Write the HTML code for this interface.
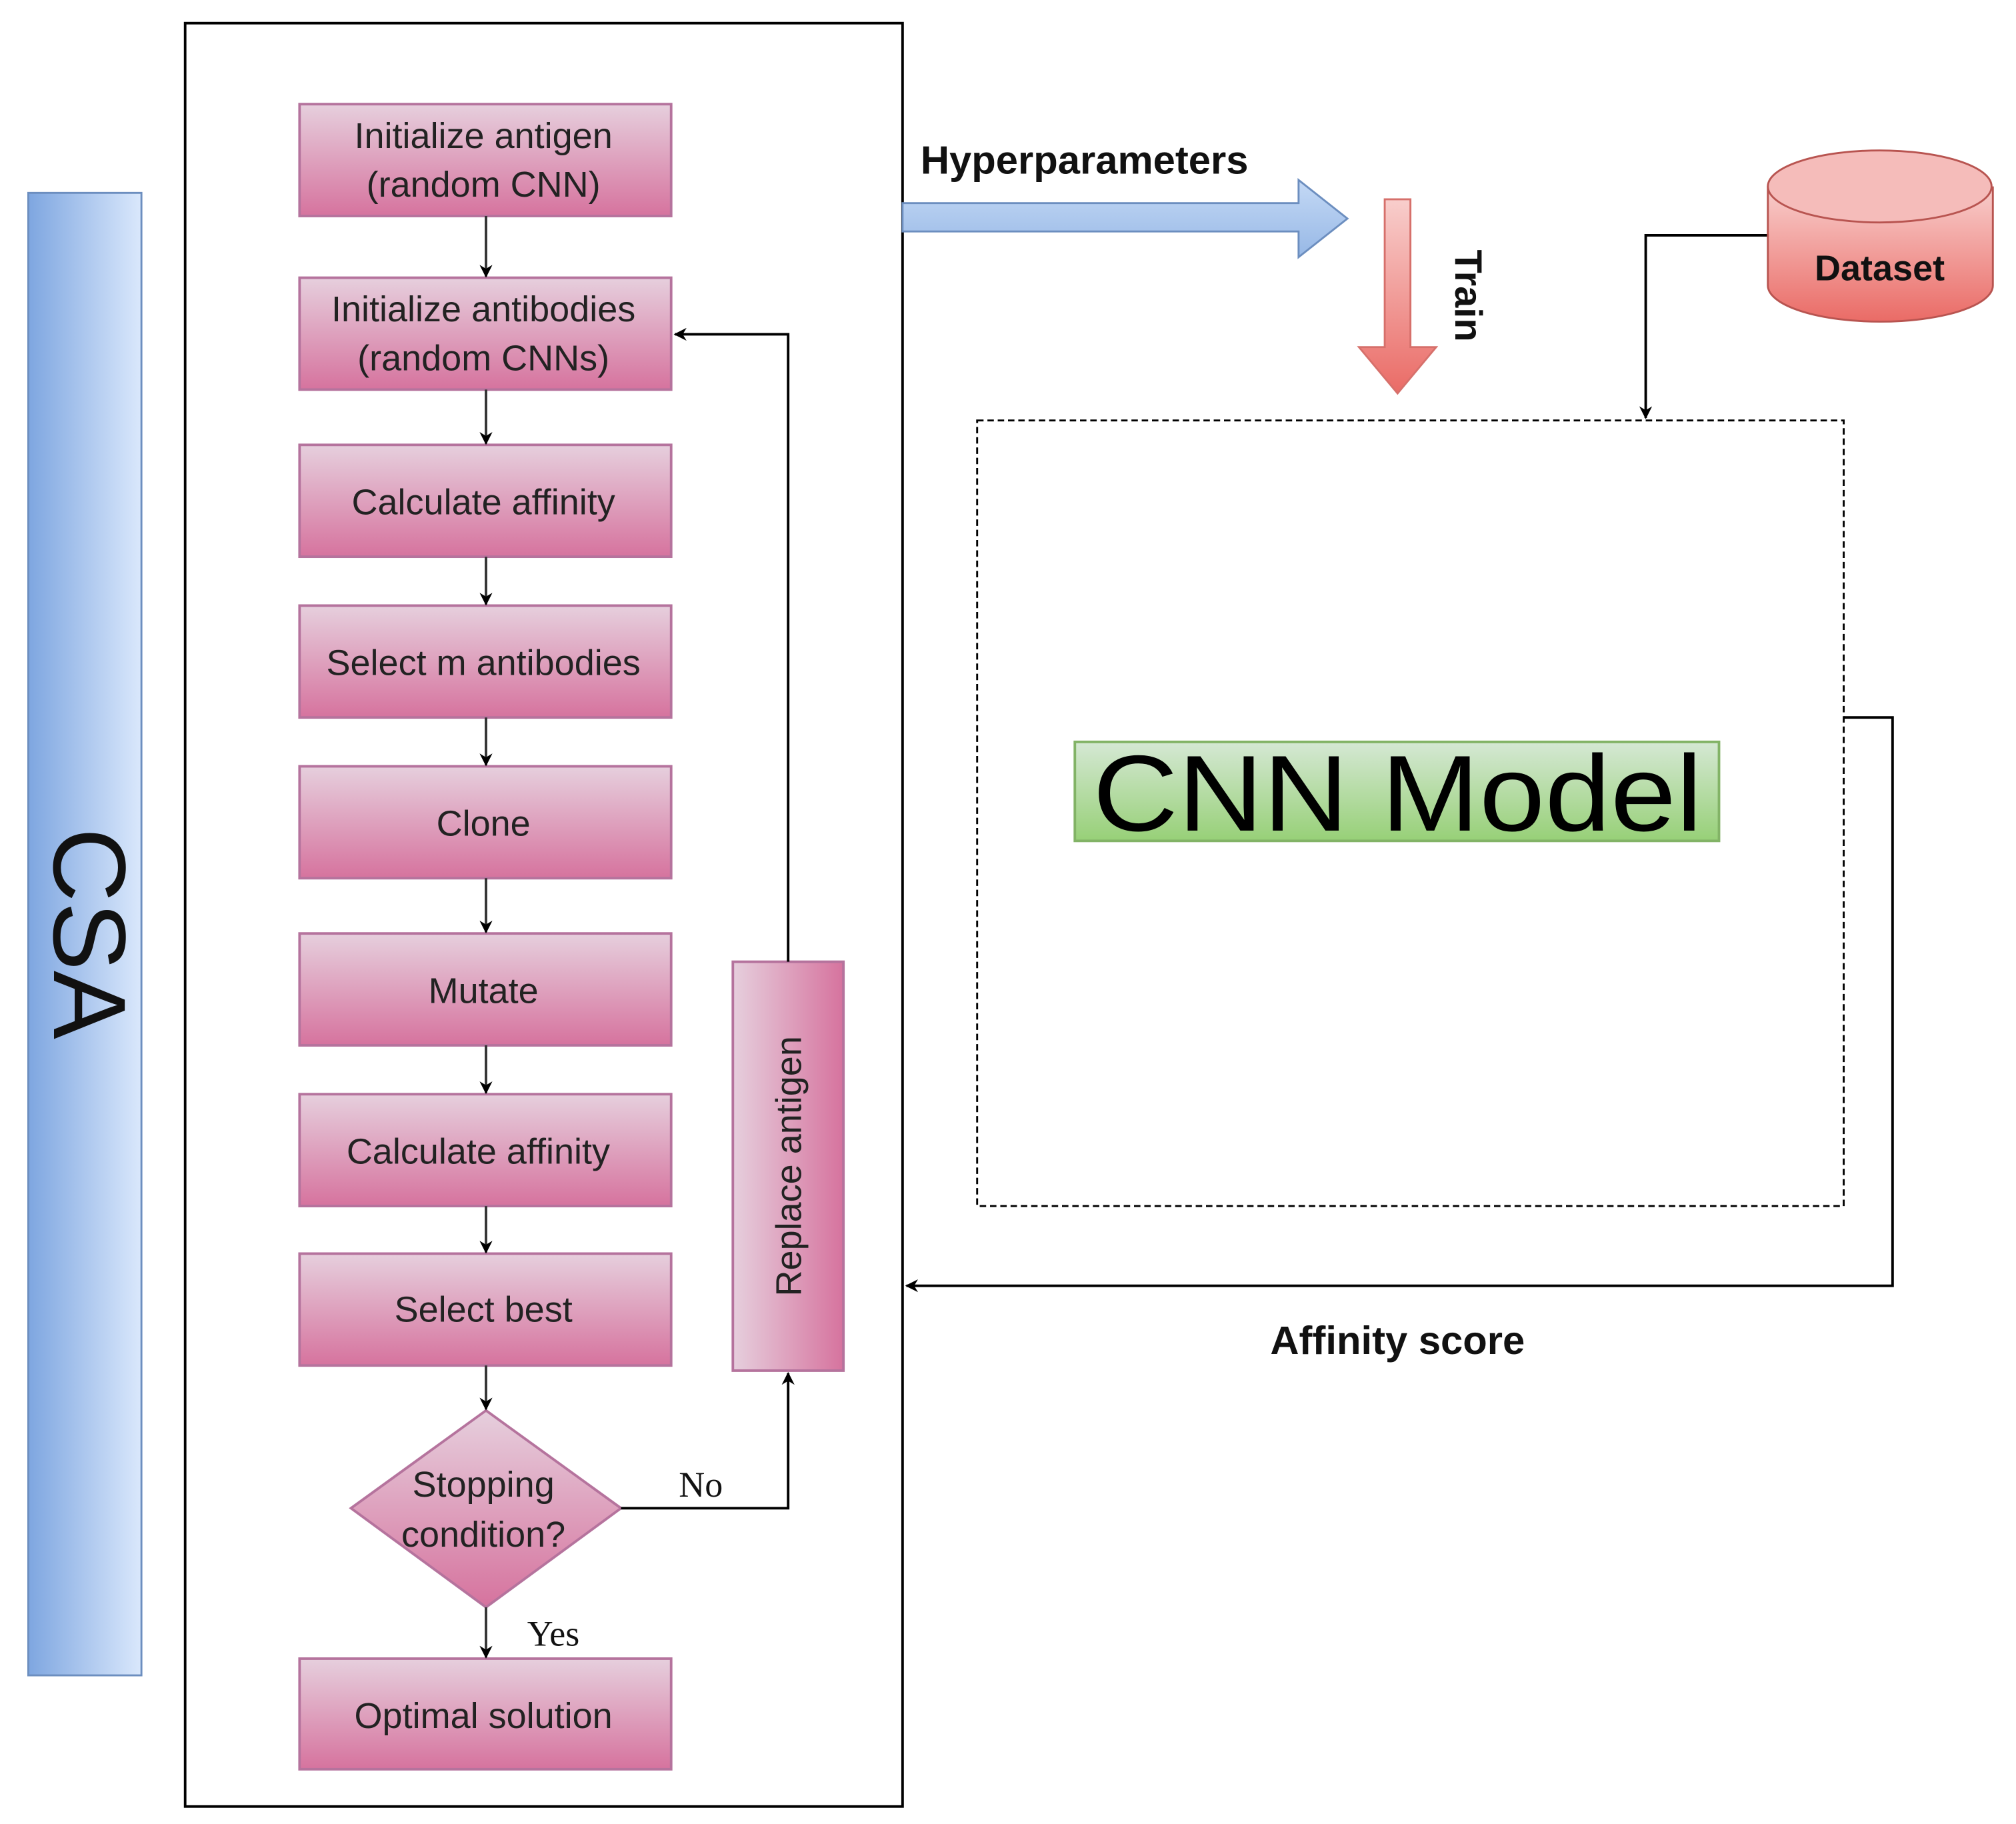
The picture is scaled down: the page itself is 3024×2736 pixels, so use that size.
<!DOCTYPE html>
<html><head><meta charset="utf-8"><style>html,body{margin:0;padding:0;background:#fff}svg{display:block}</style></head><body>
<svg width="3024" height="2736" viewBox="0 0 1568 1418.6" preserveAspectRatio="none" xmlns="http://www.w3.org/2000/svg" font-family="Liberation Sans, sans-serif">
<defs>
<linearGradient id="pk" x1="0" y1="0" x2="0" y2="1"><stop offset="0" stop-color="#e6cfdd"/><stop offset="1" stop-color="#d6739e"/></linearGradient>
<linearGradient id="pkh" x1="0" y1="0" x2="1" y2="0"><stop offset="0" stop-color="#e6cfdd"/><stop offset="1" stop-color="#d6739e"/></linearGradient>
<linearGradient id="bl" x1="0" y1="0" x2="1" y2="0"><stop offset="0" stop-color="#7ea6e0"/><stop offset="1" stop-color="#dae8fc"/></linearGradient>
<linearGradient id="blv" x1="0" y1="0" x2="0" y2="1"><stop offset="0" stop-color="#c4d9f5"/><stop offset="1" stop-color="#97b8e6"/></linearGradient>
<linearGradient id="rd" x1="0" y1="0" x2="0" y2="1"><stop offset="0" stop-color="#f8cecc"/><stop offset="1" stop-color="#ea6b66"/></linearGradient>
<linearGradient id="gr" x1="0" y1="0" x2="0" y2="1"><stop offset="0" stop-color="#d5e8d4"/><stop offset="1" stop-color="#97d077"/></linearGradient>
<marker id="ar" markerWidth="10" markerHeight="10" refX="9" refY="5" orient="auto" markerUnits="userSpaceOnUse"><path d="M0,0 L10,5 L0,10 L3,5 z" fill="#000"/></marker>
</defs>
<rect x="22" y="150" width="88" height="1153" fill="url(#bl)" stroke="#6c8ebf" stroke-width="1.5"/>
<text x="0" y="0" transform="translate(42,726) rotate(90)" font-size="80" text-anchor="middle" fill="#111">CSA</text>
<rect x="144" y="18" width="558" height="1387" fill="none" stroke="#000" stroke-width="2"/>
<g stroke="#b5739d" stroke-width="2" fill="url(#pk)">
<rect x="233" y="81" width="289" height="87"/>
<rect x="233" y="216" width="289" height="87"/>
<rect x="233" y="346" width="289" height="87"/>
<rect x="233" y="471" width="289" height="87"/>
<rect x="233" y="596" width="289" height="87"/>
<rect x="233" y="726" width="289" height="87"/>
<rect x="233" y="851" width="289" height="87"/>
<rect x="233" y="975" width="289" height="87"/>
<rect x="233" y="1290" width="289" height="86"/>
<path d="M378,1097 L483,1173 L378,1250 L273,1173 z"/>
</g>
<rect x="570" y="748" width="86" height="318" fill="url(#pkh)" stroke="#b5739d" stroke-width="2"/>
<g font-size="28" fill="#222" text-anchor="middle">
<text x="376" y="115">Initialize antigen</text><text x="376" y="153">(random CNN)</text>
<text x="376" y="250">Initialize antibodies</text><text x="376" y="288">(random CNNs)</text>
<text x="376" y="400">Calculate affinity</text>
<text x="376" y="525">Select m antibodies</text>
<text x="376" y="650">Clone</text>
<text x="376" y="780">Mutate</text>
<text x="372" y="905">Calculate affinity</text>
<text x="376" y="1028">Select best</text>
<text x="376" y="1164">Stopping</text><text x="376" y="1203">condition?</text>
<text x="376" y="1344">Optimal solution</text>
<text x="0" y="0" transform="translate(623,907) rotate(-90)">Replace antigen</text>
</g>
<g stroke="#333" stroke-width="2" fill="none" marker-end="url(#ar)">
<line x1="378" y1="168" x2="378" y2="215"/>
<line x1="378" y1="303" x2="378" y2="345"/>
<line x1="378" y1="433" x2="378" y2="470"/>
<line x1="378" y1="558" x2="378" y2="595"/>
<line x1="378" y1="683" x2="378" y2="725"/>
<line x1="378" y1="813" x2="378" y2="850"/>
<line x1="378" y1="938" x2="378" y2="974"/>
<line x1="378" y1="1062" x2="378" y2="1096"/>
<line x1="378" y1="1250" x2="378" y2="1289"/>
</g>
<g stroke="#000" stroke-width="2" fill="none" marker-end="url(#ar)">
<polyline points="613,748 613,260 525,260"/>
<polyline points="483,1173 613,1173 613,1068"/>
<polyline points="1375,183 1280,183 1280,325"/>
<polyline points="1434,558 1472,558 1472,1000 705,1000"/>
</g>
<g font-family="Liberation Serif, serif" font-size="28" fill="#111">
<text x="528" y="1164">No</text><text x="410" y="1280">Yes</text>
</g>
<text x="716" y="135" font-size="31" font-weight="bold" fill="#111">Hyperparameters</text>
<path d="M702,158 L1010,158 L1010,140 L1048,170 L1010,200 L1010,180 L702,180 z" fill="url(#blv)" stroke="#6c8ebf" stroke-width="1.5"/>
<path d="M1077,155 L1097,155 L1097,270 L1117,270 L1087,306 L1057,270 L1077,270 z" fill="url(#rd)" stroke="#d6706b" stroke-width="1.5"/>
<text x="0" y="0" transform="translate(1132,230) rotate(90)" font-size="30" font-weight="bold" text-anchor="middle" fill="#111">Train</text>
<path d="M1375,145 L1375,222 A87,28 0 0 0 1550,222 L1550,145" fill="url(#rd)" stroke="#b85450" stroke-width="1.5"/>
<ellipse cx="1462" cy="145" rx="87" ry="28" fill="#f5bcba" stroke="#b85450" stroke-width="1.5"/>
<text x="1462" y="218" font-size="28" font-weight="bold" text-anchor="middle" fill="#111">Dataset</text>
<rect x="760" y="327" width="674" height="611" fill="none" stroke="#000" stroke-width="1.5" stroke-dasharray="5,3"/>
<rect x="836" y="577" width="501" height="77" fill="url(#gr)" stroke="#82b366" stroke-width="2"/>
<text x="850" y="646" font-size="84" textLength="474" lengthAdjust="spacingAndGlyphs" fill="#000">CNN Model</text>
<text x="1087" y="1053" font-size="31" font-weight="bold" text-anchor="middle" fill="#111">Affinity score</text>
</svg>
</body></html>
